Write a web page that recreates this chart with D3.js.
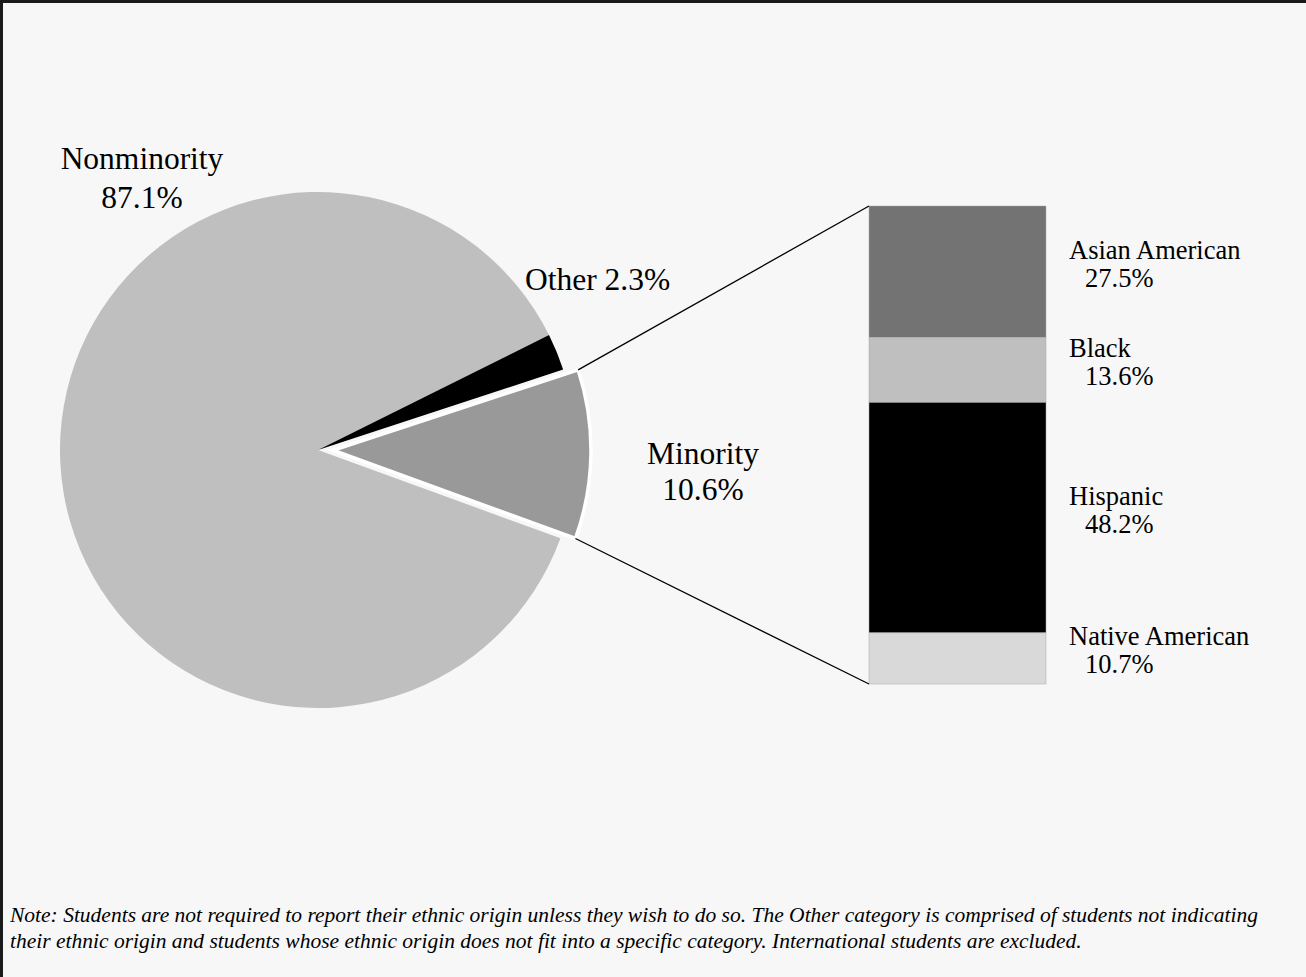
<!DOCTYPE html>
<html>

<head>
	<meta charset="utf-8">
	<title>Minority Enrollment</title>
	<style>
		body {
			margin: 0;
			background: #ffffff;
		}
		svg {
			display: block;
			font-family: "Liberation Serif", "Times New Roman", serif;
		}
		.label {
			fill: #000000;
		}
		.pie-label {
			font-size: 31.5px;
		}
		.bar-label {
			font-size: 26.5px;
		}
		.note {
			font-size: 21.5px;
			font-style: italic;
		}
		.link {
			stroke: #000000;
			stroke-width: 1.3;
		}
		.frame {
			stroke: #1a1a1a;
			stroke-width: 3;
		}
	</style>
</head>

<body>

	<div id="chart"></div>

	<script src="https://cdnjs.cloudflare.com/ajax/libs/d3/7.8.5/d3.min.js"></script>

	<script type="text/javascript">

		// pie data
		var pieNames = ["Nonminority", "Other", "Minority"];
		var pieValues = [87.1, 2.3, 10.6];
		var pieColors = ["#bfbfbf", "#000000", "#999999"];

		// breakdown of the minority slice
		var barNames = ["Asian American", "Black", "Hispanic", "Native American"];
		var barValues = [27.5, 13.6, 48.2, 10.7];
		var barColors = ["#737373", "#bfbfbf", "#000000", "#d9d9d9"];

		var noteLines = [
			"Note: Students are not required to report their ethnic origin unless they wish to do so. The Other category is comprised of students not indicating",
			"their ethnic origin and students whose ethnic origin does not fit into a specific category. International students are excluded."
		];

		var width = 1306;
		var height = 977;
		var cx = 318, cy = 450, radius = 258;
		var explode = 15;

		var svg = d3.select("#chart").append("svg")
			.attr("width", width)
			.attr("height", height);

		svg.append("rect")
			.attr("width", width)
			.attr("height", height)
			.attr("fill", "#f7f7f7");

		// frame only shows on the top and left edges
		svg.append("line").attr("class", "frame")
			.attr("x1", 0).attr("y1", 1.5).attr("x2", width).attr("y2", 1.5);
		svg.append("line").attr("class", "frame")
			.attr("x1", 1.5).attr("y1", 0).attr("x2", 1.5).attr("y2", height);

		// nonminority starts just below the minority wedge, which sits at 3 o'clock
		var start = 110 * Math.PI / 180;
		var pie = d3.pie()
			.sort(null)
			.startAngle(start)
			.endAngle(start + 2 * Math.PI)
			.value(function(d) { return d; });

		var arcs = pie(pieValues);
		var arc = d3.arc().innerRadius(0).outerRadius(radius);

		function offset(d, i) {
			if (pieNames[i] !== "Minority") return [0, 0];
			var mid = (d.startAngle + d.endAngle) / 2;
			return [Math.sin(mid) * explode, -Math.cos(mid) * explode];
		}

		var pieG = svg.append("g")
			.attr("transform", "translate(" + cx + "," + cy + ")");

		pieG.selectAll("path")
			.data(arcs)
			.enter()
			.append("path")
			.attr("d", arc)
			.attr("fill", function(d, i) { return pieColors[i]; })
			.attr("stroke", function(d, i) { return pieNames[i] === "Minority" ? "#ffffff" : "none"; })
			.attr("stroke-width", 3.5)
			.attr("transform", function(d, i) {
				var o = offset(d, i);
				return "translate(" + o[0] + "," + o[1] + ")";
			});

		// stacked bar
		var barX = 869, barW = 177;
		var yScale = d3.scaleLinear()
			.domain([0, d3.sum(barValues)])
			.range([206, 684]);

		var stack = [];
		var acc = 0;
		barValues.forEach(function(v, i) {
			stack.push({ name: barNames[i], value: v, y0: acc, y1: acc + v, color: barColors[i] });
			acc += v;
		});

		svg.append("g")
			.selectAll("rect")
			.data(stack)
			.enter()
			.append("rect")
			.attr("x", barX)
			.attr("y", function(d) { return yScale(d.y0); })
			.attr("width", barW)
			.attr("height", function(d) { return yScale(d.y1) - yScale(d.y0); })
			.attr("fill", function(d) { return d.color; })
			.attr("stroke", "#a8a8a8")
			.attr("stroke-width", 0.5);

		// lines from the minority wedge to the bar
		var mIdx = pieNames.indexOf("Minority");
		var m = arcs[mIdx];
		var mo = offset(m, mIdx);
		function corner(a) {
			return [cx + mo[0] + Math.sin(a) * radius, cy + mo[1] - Math.cos(a) * radius];
		}
		var topCorner = corner(m.startAngle);
		var bottomCorner = corner(m.endAngle);

		svg.append("line")
			.attr("class", "link")
			.attr("x1", topCorner[0]).attr("y1", topCorner[1])
			.attr("x2", barX).attr("y2", yScale.range()[0]);

		svg.append("line")
			.attr("class", "link")
			.attr("x1", bottomCorner[0]).attr("y1", bottomCorner[1])
			.attr("x2", barX).attr("y2", yScale.range()[1]);

		// pie labels
		var nonLabel = svg.append("text")
			.attr("class", "label pie-label")
			.attr("text-anchor", "middle");
		nonLabel.append("tspan").attr("x", 142).attr("y", 169).text(pieNames[0]);
		nonLabel.append("tspan").attr("x", 142).attr("y", 208).text(pieValues[0].toFixed(1) + "%");

		svg.append("text")
			.attr("class", "label pie-label")
			.attr("x", 525)
			.attr("y", 290)
			.text(pieNames[1] + " " + pieValues[1].toFixed(1) + "%");

		var minLabel = svg.append("text")
			.attr("class", "label pie-label")
			.attr("text-anchor", "middle");
		minLabel.append("tspan").attr("x", 703).attr("y", 464).text(pieNames[2]);
		minLabel.append("tspan").attr("x", 703).attr("y", 500).text(pieValues[2].toFixed(1) + "%");

		// bar labels, roughly centred on their segment
		var barLabels = svg.append("g")
			.selectAll("text")
			.data(stack)
			.enter()
			.append("text")
			.attr("class", "label bar-label");

		barLabels.append("tspan")
			.attr("x", 1069)
			.attr("y", function(d) { return (yScale(d.y0) + yScale(d.y1)) / 2 - 13; })
			.text(function(d) { return d.name; });

		barLabels.append("tspan")
			.attr("x", 1085)
			.attr("y", function(d) { return (yScale(d.y0) + yScale(d.y1)) / 2 + 15; })
			.text(function(d) { return d.value.toFixed(1) + "%"; });

		// note
		svg.append("g")
			.selectAll("text")
			.data(noteLines)
			.enter()
			.append("text")
			.attr("class", "label note")
			.attr("x", 10)
			.attr("y", function(d, i) { return 922 + i * 26; })
			.text(function(d) { return d; });

	</script>

</body>

</html>
